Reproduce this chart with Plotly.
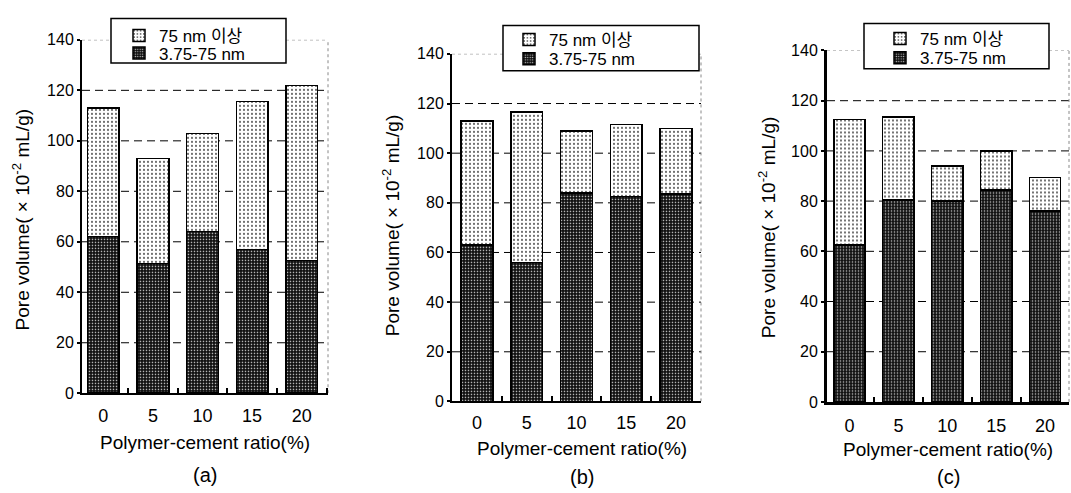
import plotly.graph_objects as go

# Polymer-cement ratio categories
ratios = ["0", "5", "10", "15", "20"]
y_ticks = [0, 20, 40, 60, 80, 100, 120, 140]
grid_levels = [20, 40, 60, 80, 100, 120]

# Pore volume (x10^-2 mL/g) per pore-size class
a_fine = [62, 51.5, 64, 57, 52.5]        # 3.75-75 nm
a_coarse = [51, 41.5, 39, 58.5, 69.5]    # 75 nm 이상
b_fine = [63, 56, 84, 82.5, 83.5]
b_coarse = [50, 60.5, 25, 29, 26.5]
c_fine = [62.5, 80.5, 80, 84.5, 76]
c_coarse = [50, 33, 14, 15.5, 13.5]

panel_labels = ["(a)", "(b)", "(c)"]
fine_name = "3.75-75 nm"
coarse_name = "75 nm 이상"
x_title = "Polymer-cement ratio(%)"
y_title = "Pore volume( × 10<sup>-2</sup> mL/g)"

FONT = "Arial, 'Liberation Sans', 'Noto Sans CJK KR', sans-serif"
W, H = 1071, 493

# pixel geometry of each panel
panels = [
    dict(x0=82, x1=328, yb=399, yt=33, xr=[-0.43, 4.53], lw=2.0,
         box=(111, 286, 11, 57), text_x=159, rows=(29, 47),
         ytitle=(21, 220), tick_y=416, title_y=450, lab_y=484, lab_x=205),
    dict(x0=452, x1=701, yb=407.5, yt=47.5, xr=[-0.5, 4.5], lw=2.0,
         box=(503, 699, 18, 65), text_x=549, rows=(33, 53),
         ytitle=(391, 226), tick_y=423, title_y=456, lab_y=486, lab_x=582),
    dict(x0=827, x1=1069, yb=408, yt=44, xr=[-0.46, 4.49], lw=3.0,
         box=(864, 1049, 16, 63), text_x=920, rows=(32, 52),
         ytitle=(767, 228), tick_y=425, title_y=457, lab_y=486, lab_x=948),
]
data = [(a_fine, a_coarse), (b_fine, b_coarse), (c_fine, c_coarse)]

fine_pattern = dict(shape=".", fgcolor="#c8c8c8", bgcolor="#121212",
                    size=3, solidity=0.22, fillmode="replace")
coarse_pattern = dict(shape=".", fgcolor="#333333", bgcolor="#ffffff",
                      size=4, solidity=0.16, fillmode="replace")

fig = go.Figure()
layout = {}
shapes = []
annotations = []

for i, (p, (fine, coarse)) in enumerate(zip(panels, data)):
    n = "" if i == 0 else str(i + 1)
    xa, ya = "x" + n, "y" + n
    leg_top = "legend" + str(2 * i + 2)
    leg_bot = "legend" + str(2 * i + 3)
    fig.add_trace(go.Bar(
        x=ratios, y=fine, name=fine_name, xaxis=xa, yaxis=ya, legend=leg_bot,
        marker=dict(color="#121212", pattern=fine_pattern,
                    line=dict(color="black", width=1.5)),
    ))
    fig.add_trace(go.Bar(
        x=ratios, y=coarse, name=coarse_name, xaxis=xa, yaxis=ya, legend=leg_top,
        marker=dict(color="white", pattern=coarse_pattern,
                    line=dict(color="black", width=1.5)),
    ))

    layout["xaxis" + n] = dict(
        domain=[p["x0"] / W, p["x1"] / W], anchor=ya, type="category",
        range=p["xr"], tickson="boundaries", ticks="inside", ticklen=5,
        tickwidth=2, tickcolor="black", showline=True, linecolor="black",
        linewidth=p["lw"], showgrid=False, zeroline=False,
        tickfont=dict(family=FONT, size=18, color="black"),
        ticklabelstandoff=int(round(max(0, p["tick_y"] - p["yb"] - 12))),
    )
    layout["yaxis" + n] = dict(
        domain=[1 - p["yb"] / H, 1 - p["yt"] / H], anchor=xa, range=[0, 140],
        tickvals=y_ticks, ticks="outside", ticklen=3, tickwidth=2,
        tickcolor="black", showline=True, linecolor="black",
        linewidth=p["lw"], showgrid=False, zeroline=False,
        tickfont=dict(family=FONT, size=16, color="black"), ticklabelstandoff=0,
    )

    # dashed reference lines
    for g in grid_levels:
        shapes.append(dict(type="line", xref=xa + " domain", yref=ya,
                           x0=0, x1=1, y0=g, y1=g, layer="below",
                           line=dict(color="black", width=1, dash="8px,5px")))
    # dotted frame on the top and right
    shapes.append(dict(type="line", xref=xa + " domain", yref=ya,
                       x0=0, x1=1, y0=140, y1=140, layer="below",
                       line=dict(color="#888888", width=1, dash="dot")))
    shapes.append(dict(type="line", xref=xa + " domain", yref=ya,
                       x0=1, x1=1, y0=0, y1=140, layer="below",
                       line=dict(color="#888888", width=1, dash="dot")))

    # legend frame
    lx0, lx1, ly0, ly1 = p["box"]
    shapes.append(dict(type="rect", xref="paper", yref="paper",
                       x0=lx0 / W, x1=lx1 / W, y0=1 - ly1 / H, y1=1 - ly0 / H,
                       layer="above", fillcolor="white",
                       line=dict(color="black", width=1.5)))
    for leg, row in ((leg_top, p["rows"][0]), (leg_bot, p["rows"][1])):
        layout[leg] = dict(
            x=(p["text_x"] - 40) / W, y=1 - row / H,
            xanchor="left", yanchor="middle",
            bgcolor="rgba(0,0,0,0)", borderwidth=0,
            font=dict(family=FONT, size=17, color="black"), itemwidth=30,
        )

    annotations.append(dict(
        x=p["lab_x"] / W, y=1 - p["title_y"] / H, xref="paper", yref="paper",
        xanchor="center", yanchor="middle", showarrow=False, text=x_title,
        font=dict(family=FONT, size=19, color="black"),
    ))
    annotations.append(dict(
        x=p["lab_x"] / W, y=1 - p["lab_y"] / H, xref="paper", yref="paper",
        xanchor="center", yanchor="middle", showarrow=False,
        text=panel_labels[i], font=dict(family=FONT, size=20, color="black"),
    ))
    annotations.append(dict(
        x=p["ytitle"][0] / W, y=1 - p["ytitle"][1] / H,
        xref="paper", yref="paper", xanchor="center", yanchor="middle",
        showarrow=False, textangle=-90, text=y_title,
        font=dict(family=FONT, size=19, color="black"),
    ))

fig.update_layout(
    width=W, height=H, margin=dict(l=0, r=0, t=0, b=0),
    paper_bgcolor="white", plot_bgcolor="white",
    barmode="stack", bargap=0.36, showlegend=True,
    shapes=shapes, annotations=annotations, **layout,
)

fig.write_html("out.html")
